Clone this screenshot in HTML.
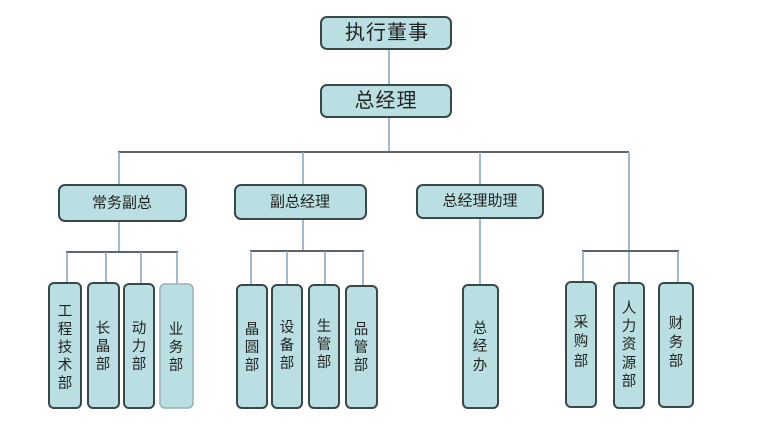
<!DOCTYPE html>
<html><head><meta charset="utf-8"><style>
html,body{margin:0;padding:0;background:#fff;}
svg{display:block;}
text{font-family:"Liberation Sans","Noto Sans CJK SC",sans-serif;fill:#222;text-anchor:middle;dominant-baseline:central;}
.b{fill:#b9dfe2;stroke:#3b4848;stroke-width:2;}
.bl{fill:#b9dfe2;stroke:#9aaeb4;stroke-width:1.5;}
.h{stroke:#5e6466;stroke-width:2;fill:none;}
.v{stroke:#8aa6c2;stroke-width:1.6;fill:none;}
.t20{font-size:20px;letter-spacing:1px;}
.t15{font-size:15px;}
.t14{font-size:14.5px;}
</style></head><body>
<svg width="777" height="448" viewBox="0 0 777 448" xmlns="http://www.w3.org/2000/svg">
<!-- connectors -->
<line class="v" x1="389" y1="49" x2="389" y2="85"/>
<line class="v" x1="389" y1="117" x2="389" y2="152"/>
<line class="h" x1="118" y1="152" x2="629" y2="152"/>
<line class="v" x1="119" y1="152" x2="119" y2="185"/>
<line class="v" x1="303" y1="152" x2="303" y2="185"/>
<line class="v" x1="480" y1="152" x2="480" y2="185"/>
<line class="v" x1="629" y1="152" x2="629" y2="283"/>
<!-- group1 -->
<line class="v" x1="119" y1="221" x2="119" y2="252"/>
<line class="h" x1="66" y1="252" x2="178" y2="252"/>
<line class="v" x1="67" y1="252" x2="67" y2="283"/>
<line class="v" x1="106" y1="252" x2="106" y2="283"/>
<line class="v" x1="141" y1="252" x2="141" y2="283"/>
<line class="v" x1="177" y1="252" x2="177" y2="283"/>
<!-- group2 -->
<line class="v" x1="303" y1="219" x2="303" y2="251"/>
<line class="h" x1="250" y1="251" x2="364" y2="251"/>
<line class="v" x1="251" y1="251" x2="251" y2="285"/>
<line class="v" x1="287" y1="251" x2="287" y2="285"/>
<line class="v" x1="325" y1="251" x2="325" y2="285"/>
<line class="v" x1="363" y1="251" x2="363" y2="285"/>
<!-- group3 -->
<line class="v" x1="480" y1="218" x2="480" y2="285"/>
<!-- group4 -->
<line class="h" x1="582" y1="251" x2="679" y2="251"/>
<line class="v" x1="583" y1="251" x2="583" y2="282"/>
<line class="v" x1="678" y1="251" x2="678" y2="283"/>

<!-- top boxes -->
<rect class="b" x="321" y="17" width="130" height="32" rx="6"/>
<text class="t20" x="387" y="33">执行董事</text>
<rect class="b" x="321" y="85" width="130" height="32" rx="6"/>
<text class="t20" x="386" y="101">总经理</text>

<!-- level 2 -->
<rect class="b" x="59" y="185" width="127" height="36" rx="6"/>
<text class="t15" x="122" y="203">常务副总</text>
<rect class="b" x="235" y="185" width="131" height="34" rx="6"/>
<text class="t15" x="300" y="202">副总经理</text>
<rect class="b" x="417" y="185" width="126" height="33" rx="6"/>
<text class="t15" x="480" y="201">总经理助理</text>

<!-- group1 children -->
<rect class="b" x="49" y="283" width="32" height="125" rx="5"/>
<text class="t14" x="65" y="312">工</text><text class="t14" x="65" y="330">程</text><text class="t14" x="65" y="348">技</text><text class="t14" x="65" y="366">术</text><text class="t14" x="65" y="384">部</text>
<rect class="b" x="88" y="283" width="31" height="125" rx="5"/>
<text class="t14" x="103" y="329">长</text><text class="t14" x="103" y="347">晶</text><text class="t14" x="103" y="365">部</text>
<rect class="b" x="124" y="284" width="30" height="124" rx="5"/>
<text class="t14" x="139" y="329">动</text><text class="t14" x="139" y="347">力</text><text class="t14" x="139" y="365">部</text>
<rect class="bl" x="160" y="284" width="33" height="124" rx="5"/>
<text class="t14" x="176" y="330">业</text><text class="t14" x="176" y="348">务</text><text class="t14" x="176" y="366">部</text>

<!-- group2 children -->
<rect class="b" x="237" y="285" width="30" height="123" rx="5"/>
<text class="t14" x="252" y="330">晶</text><text class="t14" x="252" y="348">圆</text><text class="t14" x="252" y="366">部</text>
<rect class="b" x="272" y="285" width="30" height="123" rx="5"/>
<text class="t14" x="287" y="328">设</text><text class="t14" x="287" y="346">备</text><text class="t14" x="287" y="364">部</text>
<rect class="b" x="309" y="285" width="30" height="123" rx="5"/>
<text class="t14" x="324" y="327">生</text><text class="t14" x="324" y="345">管</text><text class="t14" x="324" y="363">部</text>
<rect class="b" x="346" y="286" width="31" height="122" rx="5"/>
<text class="t14" x="361" y="330">品</text><text class="t14" x="361" y="348">管</text><text class="t14" x="361" y="366">部</text>

<!-- group3 child -->
<rect class="b" x="463" y="285" width="35" height="123" rx="5"/>
<text class="t14" x="480" y="329">总</text><text class="t14" x="480" y="347">经</text><text class="t14" x="480" y="366">办</text>

<!-- group4 children -->
<rect class="b" x="566" y="282" width="30" height="125" rx="5"/>
<text class="t14" x="581" y="323">采</text><text class="t14" x="581" y="342">购</text><text class="t14" x="581" y="362">部</text>
<rect class="b" x="614" y="283" width="30" height="125" rx="5"/>
<text class="t14" x="629" y="309">人</text><text class="t14" x="629" y="327">力</text><text class="t14" x="629" y="345">资</text><text class="t14" x="629" y="364">源</text><text class="t14" x="629" y="382">部</text>
<rect class="b" x="659" y="283" width="34" height="124" rx="5"/>
<text class="t14" x="676" y="324">财</text><text class="t14" x="676" y="343">务</text><text class="t14" x="676" y="362">部</text>
</svg>
</body></html>
